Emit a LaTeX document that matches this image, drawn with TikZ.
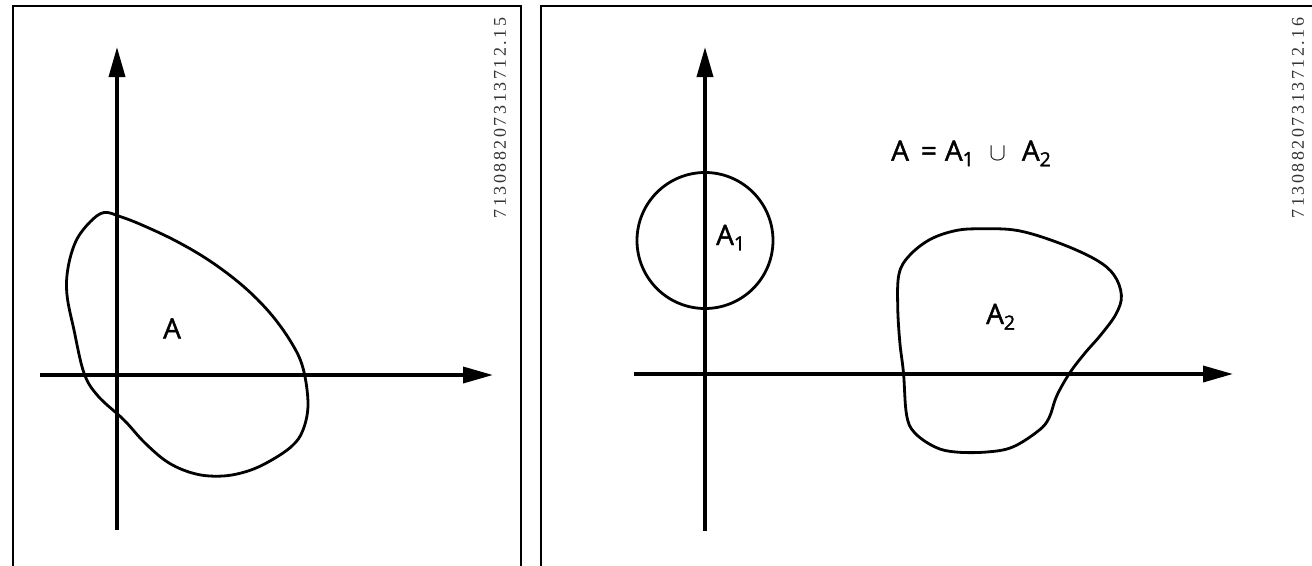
\documentclass[tikz,border=0pt]{standalone}
\usepackage{fontspec}
\setmainfont{Open Sans}[FakeBold=1.6]
\newfontfamily\idfont[LetterSpace=14]{Liberation Serif}
\usetikzlibrary{arrows.meta}
\tikzset{
  frame/.style={line width=2pt},
  axis/.style={line width=3.6pt, -{Triangle[length=30pt,width=16pt]}},
  region/.style={line width=2.8pt, line join=round},
  lbl/.style={font=\fontsize{28}{32}\selectfont, inner sep=0pt, anchor=base west},
  idtext/.style={font=\idfont\fontsize{18}{21}\selectfont, rotate=90, inner sep=0pt, text=black!80}
}
\begin{document}
\begin{tikzpicture}[x=1pt,y=-1pt]
\useasboundingbox (0,0) rectangle (1312,565);
% frames
\draw[frame] (13,566) -- (13,6) -- (521,6) -- (521,566);
\draw[frame] (541,566) -- (541,6) -- (1313,6);
% left panel axes
\coordinate (lyb) at (117,530);
\coordinate (lyt) at (117,47);
\coordinate (lxl) at (40,375);
\coordinate (lxr) at (493,375);
\draw[axis] (lyb) -- (lyt);
\draw[axis] (lxl) -- (lxr);
% region A
\draw[region] plot[smooth cycle, tension=0.6] coordinates {
 (120,216.5) (142,225) (176,241) (210,261) (243,286) (270,313) (291,342)
 (303,368) (308,404) (303,430) (292,446) (270,461) (248,471) (223,476)
 (196,474) (169,463) (145,443) (124,420) (98,396) (84,373) (74,330)
 (67,295) (68,268) (76,241) (90,222) (104,212.5)};
\node[lbl] (A) at (163,338.5) {A};
\node[idtext] (id1) at (500,118) {713088207313712.15};
% right panel axes
\coordinate (ryb) at (705,531);
\coordinate (ryt) at (705,47);
\coordinate (rxl) at (634,374);
\coordinate (rxr) at (1233,374);
\draw[axis] (ryb) -- (ryt);
\draw[axis] (rxl) -- (rxr);
% region A1
\draw[region] (705,240.5) circle[radius=68];
\node[lbl] (A1) at (716,245) {A\textsubscript{1}};
% region A2
\draw[region] plot[smooth cycle, tension=0.6] coordinates {
 (981.6,228.8) (1018,230.6) (1059,243) (1095.5,259.5) (1114,275) (1121.4,295.5)
 (1116,314) (1100.7,335) (1085,353) (1069.7,373) (1056.7,396) (1049,418)
 (1038.6,430.6) (1012.7,447) (986.8,452) (955.7,452) (935,447) (914.3,432.4)
 (906.5,414.4) (903.5,373) (899.8,342) (897.7,306) (899,274) (909,256)
 (929.8,239.6) (955.7,230.6)};
\node[lbl] (A2) at (986,324) {A\textsubscript{2}};
\node[lbl] (eq) at (891,160.7) {A\hspace{12pt}=\hspace{8pt}A\textsubscript{1}\hspace{15pt}$\cup$\hspace{16pt}A\textsubscript{2}};
\node[idtext] (id2) at (1298,118) {713088207313712.16};
\end{tikzpicture}
\end{document}
